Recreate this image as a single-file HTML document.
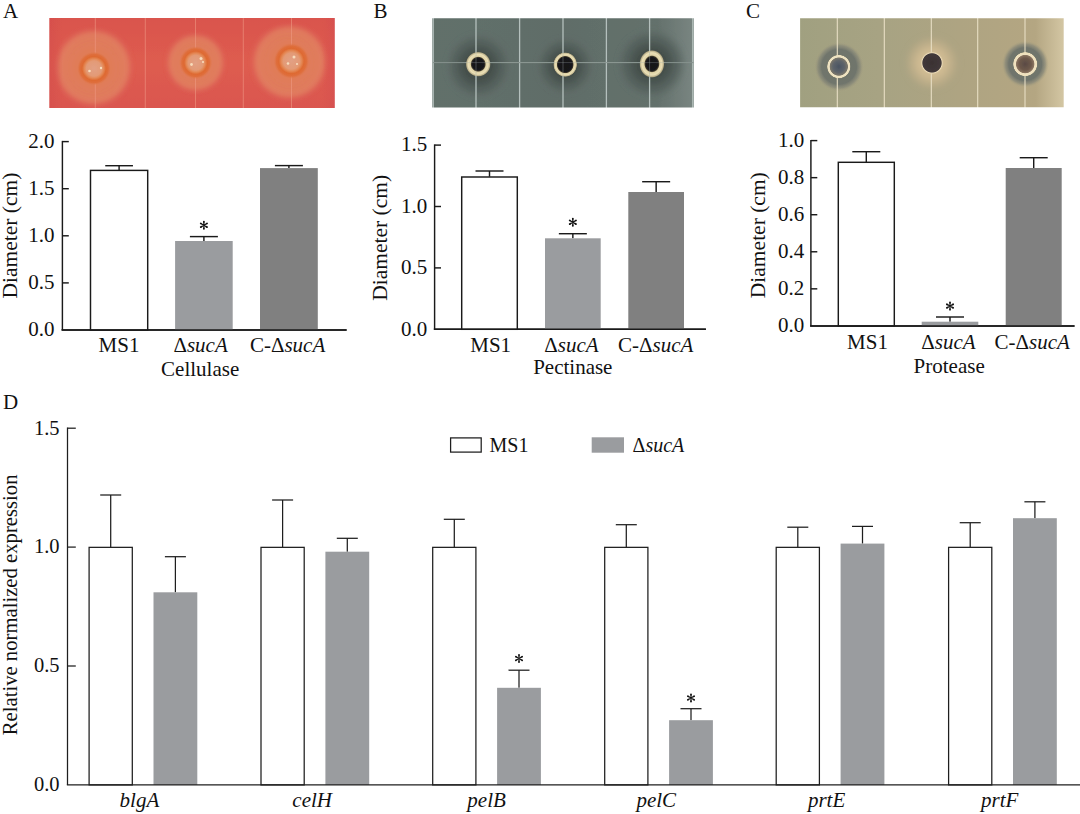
<!DOCTYPE html><html><head><meta charset="utf-8"><style>html,body{margin:0;padding:0;background:#fff;width:1080px;height:814px;overflow:hidden}svg{display:block}</style></head><body>
<svg width="1080" height="814" viewBox="0 0 1080 814" font-family='"Liberation Serif", serif' fill="#111">
<defs>
<filter id="bl1" x="-5%" y="-5%" width="110%" height="110%"><feGaussianBlur stdDeviation="0.7"/></filter><filter id="bl2" x="-20%" y="-20%" width="140%" height="140%"><feGaussianBlur stdDeviation="2"/></filter>
<filter id="bl3"><feGaussianBlur stdDeviation="2.5"/></filter>
<clipPath id="cpA"><rect x="49.3" y="18" width="285.5" height="90"/></clipPath>
<clipPath id="cpB"><rect x="432.2" y="18.2" width="261.7" height="89.3"/></clipPath>
<clipPath id="cpC"><rect x="800.1" y="18.2" width="263.6" height="89"/></clipPath>
<radialGradient id="haloA"><stop offset="0" stop-color="#e27a50"/><stop offset="0.4" stop-color="#e07c58"/><stop offset="0.7" stop-color="#e0805e" stop-opacity="0.85"/><stop offset="0.86" stop-color="#e38a66" stop-opacity="0.7"/><stop offset="1" stop-color="#de6058" stop-opacity="0"/></radialGradient>
<radialGradient id="ringA"><stop offset="0" stop-color="#e2a084"/><stop offset="0.45" stop-color="#e39a76"/><stop offset="0.56" stop-color="#e48a58"/><stop offset="0.7" stop-color="#de6a32"/><stop offset="0.84" stop-color="#df6e3c"/><stop offset="1" stop-color="#e07a50" stop-opacity="0"/></radialGradient>
<linearGradient id="bgA" x1="0" y1="0" x2="0" y2="1"><stop offset="0" stop-color="#d9544d"/><stop offset="0.5" stop-color="#de5c4f"/><stop offset="1" stop-color="#da5650"/></linearGradient>
<linearGradient id="bgAx" x1="0" y1="0" x2="1" y2="0"><stop offset="0" stop-color="#d44c4c" stop-opacity="0.8"/><stop offset="0.06" stop-color="#d44c4c" stop-opacity="0"/><stop offset="0.94" stop-color="#d44c4c" stop-opacity="0"/><stop offset="1" stop-color="#d44c55" stop-opacity="0.8"/></linearGradient>
<radialGradient id="haloB"><stop offset="0" stop-color="#3e4945"/><stop offset="0.45" stop-color="#46514d"/><stop offset="0.75" stop-color="#525e5a" stop-opacity="0.7"/><stop offset="1" stop-color="#5e6a65" stop-opacity="0"/></radialGradient>
<radialGradient id="ringB"><stop offset="0" stop-color="#141418"/><stop offset="0.46" stop-color="#18161a"/><stop offset="0.54" stop-color="#3a3428"/><stop offset="0.62" stop-color="#e0d3a6"/><stop offset="0.8" stop-color="#eadfb6"/><stop offset="0.92" stop-color="#d8c89a" stop-opacity="0.8"/><stop offset="1" stop-color="#a89870" stop-opacity="0"/></radialGradient><radialGradient id="ringB2"><stop offset="0" stop-color="#141418"/><stop offset="0.58" stop-color="#18161a"/><stop offset="0.65" stop-color="#3a3428"/><stop offset="0.72" stop-color="#e0d3a6"/><stop offset="0.85" stop-color="#eadfb6"/><stop offset="0.94" stop-color="#d8c89a" stop-opacity="0.8"/><stop offset="1" stop-color="#a89870" stop-opacity="0"/></radialGradient>
<radialGradient id="haloC"><stop offset="0" stop-color="#6c716a"/><stop offset="0.7" stop-color="#70756c"/><stop offset="0.85" stop-color="#858677" stop-opacity="0.7"/><stop offset="1" stop-color="#aba382" stop-opacity="0"/></radialGradient>
<radialGradient id="haloC2"><stop offset="0" stop-color="#d8c49c"/><stop offset="0.5" stop-color="#ccb890"/><stop offset="0.8" stop-color="#bcac88" stop-opacity="0.6"/><stop offset="1" stop-color="#aba382" stop-opacity="0"/></radialGradient>
<radialGradient id="ringC"><stop offset="0" stop-color="#4a5462"/><stop offset="0.5" stop-color="#5e646a"/><stop offset="0.74" stop-color="#7a766a"/><stop offset="0.8" stop-color="#efe4c4"/><stop offset="0.95" stop-color="#ece0be"/><stop offset="1" stop-color="#c8bd98" stop-opacity="0.2"/></radialGradient>
<radialGradient id="ringC3"><stop offset="0" stop-color="#5a4a44"/><stop offset="0.5" stop-color="#6e5a4c"/><stop offset="0.72" stop-color="#8a7460"/><stop offset="0.78" stop-color="#f0e2c0"/><stop offset="0.95" stop-color="#eee0bc"/><stop offset="1" stop-color="#c8bd98" stop-opacity="0.2"/></radialGradient>
<radialGradient id="ringC2"><stop offset="0" stop-color="#3a3232"/><stop offset="0.8" stop-color="#41383a"/><stop offset="0.88" stop-color="#ecdcb8"/><stop offset="1" stop-color="#d8c49c" stop-opacity="0.2"/></radialGradient>
<linearGradient id="bgB" x1="0" y1="0" x2="1" y2="0"><stop offset="0" stop-color="#62706b"/><stop offset="0.5" stop-color="#606d68"/><stop offset="0.85" stop-color="#64716c"/><stop offset="1" stop-color="#7c8884"/></linearGradient>
<linearGradient id="bgC" x1="0" y1="0" x2="1" y2="0"><stop offset="0" stop-color="#a0a080"/><stop offset="0.3" stop-color="#a7a383"/><stop offset="0.6" stop-color="#aea482"/><stop offset="0.88" stop-color="#b4a682"/><stop offset="1" stop-color="#d8cba8"/></linearGradient>
</defs>
<g clip-path="url(#cpA)"><g filter="url(#bl1)">
<rect x="45" y="14" width="295" height="98" fill="url(#bgA)"/>
<circle cx="93.5" cy="67.5" r="40" fill="url(#haloA)" filter="url(#bl2)"/>
<circle cx="195.5" cy="62.8" r="30" fill="url(#haloA)" filter="url(#bl2)"/>
<circle cx="289.5" cy="62" r="39" fill="url(#haloA)" filter="url(#bl2)"/>
<rect x="45" y="14" width="295" height="98" fill="url(#bgAx)"/>
<line x1="95.3" y1="14" x2="95.3" y2="112" stroke="#f09c86" stroke-width="1" opacity="0.55"/>
<line x1="145.3" y1="14" x2="145.3" y2="112" stroke="#f09c86" stroke-width="1" opacity="0.55"/>
<line x1="195.5" y1="14" x2="195.5" y2="112" stroke="#f09c86" stroke-width="1" opacity="0.55"/>
<line x1="243.3" y1="14" x2="243.3" y2="112" stroke="#f09c86" stroke-width="1" opacity="0.55"/>
<line x1="291.5" y1="14" x2="291.5" y2="112" stroke="#f09c86" stroke-width="1" opacity="0.55"/>
<circle cx="94" cy="68.5" r="17" fill="url(#ringA)"/>
<circle cx="195.7" cy="62.7" r="16.5" fill="url(#ringA)"/>
<circle cx="291.4" cy="61" r="18" fill="url(#ringA)"/>
<circle cx="89.5" cy="71" r="1.3" fill="#fae2c2" opacity="0.9"/>
<circle cx="101" cy="68" r="1.2" fill="#fae2c2" opacity="0.9"/>
<circle cx="191.5" cy="64.5" r="1.4" fill="#fae2c2" opacity="0.9"/>
<circle cx="201" cy="58.5" r="1.5" fill="#fae2c2" opacity="0.9"/>
<circle cx="203" cy="62" r="1.1" fill="#fae2c2" opacity="0.9"/>
<circle cx="288" cy="63.5" r="1.3" fill="#fae2c2" opacity="0.9"/>
<circle cx="294" cy="57" r="1.5" fill="#fae2c2" opacity="0.9"/>
<circle cx="297" cy="64" r="1.1" fill="#fae2c2" opacity="0.9"/>
</g></g>
<g clip-path="url(#cpB)"><g filter="url(#bl1)">
<rect x="428" y="14" width="270" height="98" fill="url(#bgB)"/>
<circle cx="478.3" cy="66" r="34" fill="url(#haloB)" filter="url(#bl2)"/>
<circle cx="565" cy="66" r="30" fill="url(#haloB)" filter="url(#bl2)"/>
<circle cx="651.7" cy="63.8" r="36" fill="url(#haloB)" filter="url(#bl2)"/>
<line x1="433.2" y1="14" x2="433.2" y2="112" stroke="#b4c0bd" stroke-width="1.3"/>
<line x1="476" y1="14" x2="476" y2="112" stroke="#b4c0bd" stroke-width="1.3"/>
<line x1="519.6" y1="14" x2="519.6" y2="112" stroke="#b4c0bd" stroke-width="1.3"/>
<line x1="563" y1="14" x2="563" y2="112" stroke="#b4c0bd" stroke-width="1.3"/>
<line x1="606.4" y1="14" x2="606.4" y2="112" stroke="#b4c0bd" stroke-width="1.3"/>
<line x1="649.6" y1="14" x2="649.6" y2="112" stroke="#b4c0bd" stroke-width="1.3"/>
<line x1="692.8" y1="14" x2="692.8" y2="112" stroke="#b4c0bd" stroke-width="1.3"/>
<line x1="428" y1="62.6" x2="698" y2="62.6" stroke="#86928e" stroke-width="1"/>
<ellipse cx="478.2" cy="64.2" rx="12.6" ry="12.6" fill="url(#ringB)"/>
<ellipse cx="565.2" cy="64.6" rx="12.0" ry="12.4" fill="url(#ringB2)"/>
<ellipse cx="651.9" cy="63.9" rx="12.6" ry="14.0" fill="url(#ringB)"/>
<line x1="476" y1="52" x2="476" y2="77" stroke="#9eaaa6" stroke-width="1" opacity="0.35"/>
<line x1="563" y1="52" x2="563" y2="77" stroke="#9eaaa6" stroke-width="1" opacity="0.35"/>
<line x1="649.6" y1="52" x2="649.6" y2="77" stroke="#9eaaa6" stroke-width="1" opacity="0.35"/>
<line x1="465" y1="62.6" x2="665" y2="62.6" stroke="#9eaaa6" stroke-width="1" opacity="0.3"/>
</g></g>
<g clip-path="url(#cpC)"><g filter="url(#bl1)">
<rect x="796" y="14" width="272" height="98" fill="url(#bgC)"/>
<circle cx="839" cy="66.8" r="25" fill="url(#haloC)" filter="url(#bl1)"/>
<circle cx="932" cy="63" r="29" fill="url(#haloC2)" filter="url(#bl2)"/>
<circle cx="1025.2" cy="64.1" r="23.5" fill="url(#haloC)" filter="url(#bl1)"/>
<line x1="837.3" y1="14" x2="837.3" y2="112" stroke="#e8dec4" stroke-width="1.1"/>
<line x1="884.3" y1="14" x2="884.3" y2="112" stroke="#e8dec4" stroke-width="1.1"/>
<line x1="931.3" y1="14" x2="931.3" y2="112" stroke="#e8dec4" stroke-width="1.1"/>
<line x1="977.7" y1="14" x2="977.7" y2="112" stroke="#e8dec4" stroke-width="1.1"/>
<line x1="1025" y1="14" x2="1025" y2="112" stroke="#e8dec4" stroke-width="1.1"/>
<circle cx="838.8" cy="66.6" r="11.8" fill="url(#ringC)"/>
<circle cx="932" cy="62.9" r="11.5" fill="url(#ringC2)"/>
<circle cx="1025.2" cy="64.1" r="12.2" fill="url(#ringC3)"/>
</g></g>
<text x="3.00" y="17.80" font-size="21" text-anchor="start">A</text>
<text x="373.50" y="18.30" font-size="21" text-anchor="start">B</text>
<text x="746.00" y="18.30" font-size="21" text-anchor="start">C</text>
<text x="3.00" y="408.50" font-size="21" text-anchor="start">D</text>
<line x1="62.40" y1="140.88" x2="62.40" y2="330.00" stroke="#1a1a1a" stroke-width="1.45"/>
<line x1="61.67" y1="330.00" x2="346.60" y2="330.00" stroke="#1a1a1a" stroke-width="1.45"/>
<text x="54.50" y="336.30" font-size="21" text-anchor="end">0.0</text>
<line x1="62.40" y1="282.90" x2="68.80" y2="282.90" stroke="#1a1a1a" stroke-width="1.45"/>
<text x="54.50" y="289.20" font-size="21" text-anchor="end">0.5</text>
<line x1="62.40" y1="235.80" x2="68.80" y2="235.80" stroke="#1a1a1a" stroke-width="1.45"/>
<text x="54.50" y="242.10" font-size="21" text-anchor="end">1.0</text>
<line x1="62.40" y1="188.70" x2="68.80" y2="188.70" stroke="#1a1a1a" stroke-width="1.45"/>
<text x="54.50" y="195.00" font-size="21" text-anchor="end">1.5</text>
<line x1="62.40" y1="141.60" x2="68.80" y2="141.60" stroke="#1a1a1a" stroke-width="1.45"/>
<text x="54.50" y="147.90" font-size="21" text-anchor="end">2.0</text>
<line x1="119.10" y1="170.10" x2="119.10" y2="165.70" stroke="#1a1a1a" stroke-width="1.45"/>
<line x1="105.25" y1="165.70" x2="132.95" y2="165.70" stroke="#1a1a1a" stroke-width="1.45"/>
<rect x="90.50" y="170.40" width="57.20" height="159.60" fill="#fff" stroke="#1a1a1a" stroke-width="1.45"/>
<line x1="203.90" y1="241.00" x2="203.90" y2="236.60" stroke="#1a1a1a" stroke-width="1.45"/>
<line x1="189.90" y1="236.60" x2="217.90" y2="236.60" stroke="#1a1a1a" stroke-width="1.45"/>
<rect x="175.10" y="241.00" width="57.60" height="89.00" fill="#9a9c9f"/>
<path d="M204.20,225.30 L204.85,221.75 A0.95,0.95 0 1 0 202.95,221.75 L203.60,225.30Z M204.05,225.56 L207.45,224.35 A0.95,0.95 0 1 0 206.50,222.70 L203.75,225.04Z M203.75,225.56 L206.50,227.90 A0.95,0.95 0 1 0 207.45,226.25 L204.05,225.04Z M203.60,225.30 L202.95,228.85 A0.95,0.95 0 1 0 204.85,228.85 L204.20,225.30Z M204.05,225.04 L201.30,222.70 A0.95,0.95 0 1 0 200.35,224.35 L203.75,225.56Z M203.75,225.04 L200.35,226.25 A0.95,0.95 0 1 0 201.30,227.90 L204.05,225.56Z" fill="#111"/>
<line x1="288.90" y1="168.10" x2="288.90" y2="165.60" stroke="#1a1a1a" stroke-width="1.45"/>
<line x1="274.90" y1="165.60" x2="302.90" y2="165.60" stroke="#1a1a1a" stroke-width="1.45"/>
<rect x="260.00" y="168.10" width="57.80" height="161.90" fill="#808080"/>
<line x1="61.67" y1="330.00" x2="346.60" y2="330.00" stroke="#1a1a1a" stroke-width="1.45"/>
<text x="119.00" y="352.00" font-size="21" text-anchor="middle">MS1</text>
<text x="200.60" y="352.00" font-size="21" text-anchor="middle">&#916;<tspan font-style="italic">sucA</tspan></text>
<text x="287.60" y="352.00" font-size="21" text-anchor="middle">C-&#916;<tspan font-style="italic">sucA</tspan></text>
<text x="200.20" y="376.30" font-size="21" text-anchor="middle">Cellulase</text>
<text transform="translate(17.20,235.60) rotate(-90)" font-size="21.5" text-anchor="middle">Diameter (cm)</text>
<line x1="434.60" y1="144.38" x2="434.60" y2="329.30" stroke="#1a1a1a" stroke-width="1.45"/>
<line x1="433.88" y1="329.30" x2="705.90" y2="329.30" stroke="#1a1a1a" stroke-width="1.45"/>
<text x="427.20" y="335.60" font-size="21" text-anchor="end">0.0</text>
<line x1="434.60" y1="267.90" x2="441.00" y2="267.90" stroke="#1a1a1a" stroke-width="1.45"/>
<text x="427.20" y="274.20" font-size="21" text-anchor="end">0.5</text>
<line x1="434.60" y1="206.50" x2="441.00" y2="206.50" stroke="#1a1a1a" stroke-width="1.45"/>
<text x="427.20" y="212.80" font-size="21" text-anchor="end">1.0</text>
<line x1="434.60" y1="145.10" x2="441.00" y2="145.10" stroke="#1a1a1a" stroke-width="1.45"/>
<text x="427.20" y="151.40" font-size="21" text-anchor="end">1.5</text>
<line x1="489.50" y1="176.70" x2="489.50" y2="171.00" stroke="#1a1a1a" stroke-width="1.45"/>
<line x1="475.50" y1="171.00" x2="503.50" y2="171.00" stroke="#1a1a1a" stroke-width="1.45"/>
<rect x="461.70" y="177.00" width="55.60" height="152.30" fill="#fff" stroke="#1a1a1a" stroke-width="1.45"/>
<line x1="572.85" y1="238.30" x2="572.85" y2="233.70" stroke="#1a1a1a" stroke-width="1.45"/>
<line x1="558.85" y1="233.70" x2="586.85" y2="233.70" stroke="#1a1a1a" stroke-width="1.45"/>
<rect x="545.00" y="238.30" width="55.70" height="91.00" fill="#9a9c9f"/>
<path d="M573.15,222.30 L573.80,218.75 A0.95,0.95 0 1 0 571.90,218.75 L572.55,222.30Z M573.00,222.56 L576.40,221.35 A0.95,0.95 0 1 0 575.45,219.70 L572.70,222.04Z M572.70,222.56 L575.45,224.90 A0.95,0.95 0 1 0 576.40,223.25 L573.00,222.04Z M572.55,222.30 L571.90,225.85 A0.95,0.95 0 1 0 573.80,225.85 L573.15,222.30Z M573.00,222.04 L570.25,219.70 A0.95,0.95 0 1 0 569.30,221.35 L572.70,222.56Z M572.70,222.04 L569.30,223.25 A0.95,0.95 0 1 0 570.25,224.90 L573.00,222.56Z" fill="#111"/>
<line x1="656.15" y1="192.00" x2="656.15" y2="181.70" stroke="#1a1a1a" stroke-width="1.45"/>
<line x1="642.15" y1="181.70" x2="670.15" y2="181.70" stroke="#1a1a1a" stroke-width="1.45"/>
<rect x="628.30" y="192.00" width="55.70" height="137.30" fill="#808080"/>
<line x1="433.88" y1="329.30" x2="705.90" y2="329.30" stroke="#1a1a1a" stroke-width="1.45"/>
<text x="490.70" y="351.80" font-size="21" text-anchor="middle">MS1</text>
<text x="571.40" y="351.80" font-size="21" text-anchor="middle">&#916;<tspan font-style="italic">sucA</tspan></text>
<text x="655.70" y="351.80" font-size="21" text-anchor="middle">C-&#916;<tspan font-style="italic">sucA</tspan></text>
<text x="572.80" y="374.40" font-size="21" text-anchor="middle">Pectinase</text>
<text transform="translate(387.20,237.80) rotate(-90)" font-size="21.5" text-anchor="middle">Diameter (cm)</text>
<line x1="810.90" y1="139.88" x2="810.90" y2="325.90" stroke="#1a1a1a" stroke-width="1.45"/>
<line x1="810.17" y1="325.90" x2="1074.50" y2="325.90" stroke="#1a1a1a" stroke-width="1.45"/>
<text x="804.30" y="332.20" font-size="21" text-anchor="end">0.0</text>
<line x1="810.90" y1="288.84" x2="817.30" y2="288.84" stroke="#1a1a1a" stroke-width="1.45"/>
<text x="804.30" y="295.14" font-size="21" text-anchor="end">0.2</text>
<line x1="810.90" y1="251.78" x2="817.30" y2="251.78" stroke="#1a1a1a" stroke-width="1.45"/>
<text x="804.30" y="258.08" font-size="21" text-anchor="end">0.4</text>
<line x1="810.90" y1="214.72" x2="817.30" y2="214.72" stroke="#1a1a1a" stroke-width="1.45"/>
<text x="804.30" y="221.02" font-size="21" text-anchor="end">0.6</text>
<line x1="810.90" y1="177.66" x2="817.30" y2="177.66" stroke="#1a1a1a" stroke-width="1.45"/>
<text x="804.30" y="183.96" font-size="21" text-anchor="end">0.8</text>
<line x1="810.90" y1="140.60" x2="817.30" y2="140.60" stroke="#1a1a1a" stroke-width="1.45"/>
<text x="804.30" y="146.90" font-size="21" text-anchor="end">1.0</text>
<line x1="866.30" y1="162.00" x2="866.30" y2="151.70" stroke="#1a1a1a" stroke-width="1.45"/>
<line x1="852.30" y1="151.70" x2="880.30" y2="151.70" stroke="#1a1a1a" stroke-width="1.45"/>
<rect x="838.30" y="162.30" width="56.00" height="163.60" fill="#fff" stroke="#1a1a1a" stroke-width="1.45"/>
<line x1="950.00" y1="321.70" x2="950.00" y2="317.00" stroke="#1a1a1a" stroke-width="1.45"/>
<line x1="936.00" y1="317.00" x2="964.00" y2="317.00" stroke="#1a1a1a" stroke-width="1.45"/>
<rect x="921.70" y="321.70" width="56.60" height="4.20" fill="#9a9c9f"/>
<path d="M950.30,306.10 L950.95,302.55 A0.95,0.95 0 1 0 949.05,302.55 L949.70,306.10Z M950.15,306.36 L953.55,305.15 A0.95,0.95 0 1 0 952.60,303.50 L949.85,305.84Z M949.85,306.36 L952.60,308.70 A0.95,0.95 0 1 0 953.55,307.05 L950.15,305.84Z M949.70,306.10 L949.05,309.65 A0.95,0.95 0 1 0 950.95,309.65 L950.30,306.10Z M950.15,305.84 L947.40,303.50 A0.95,0.95 0 1 0 946.45,305.15 L949.85,306.36Z M949.85,305.84 L946.45,307.05 A0.95,0.95 0 1 0 947.40,308.70 L950.15,306.36Z" fill="#111"/>
<line x1="1033.70" y1="168.00" x2="1033.70" y2="157.70" stroke="#1a1a1a" stroke-width="1.45"/>
<line x1="1019.70" y1="157.70" x2="1047.70" y2="157.70" stroke="#1a1a1a" stroke-width="1.45"/>
<rect x="1005.70" y="168.00" width="56.00" height="157.90" fill="#808080"/>
<line x1="810.17" y1="325.90" x2="1074.50" y2="325.90" stroke="#1a1a1a" stroke-width="1.45"/>
<text x="867.50" y="348.80" font-size="21" text-anchor="middle">MS1</text>
<text x="948.50" y="348.80" font-size="21" text-anchor="middle">&#916;<tspan font-style="italic">sucA</tspan></text>
<text x="1032.20" y="348.80" font-size="21" text-anchor="middle">C-&#916;<tspan font-style="italic">sucA</tspan></text>
<text x="949.20" y="372.90" font-size="21" text-anchor="middle">Protease</text>
<text transform="translate(765.00,235.20) rotate(-90)" font-size="21.5" text-anchor="middle">Diameter (cm)</text>
<line x1="67.50" y1="427.57" x2="67.50" y2="784.90" stroke="#1e1e1e" stroke-width="1.25"/>
<text x="59.50" y="791.20" font-size="20.5" text-anchor="end">0.0</text>
<line x1="67.50" y1="666.00" x2="75.80" y2="666.00" stroke="#1e1e1e" stroke-width="1.25"/>
<text x="59.50" y="672.30" font-size="20.5" text-anchor="end">0.5</text>
<line x1="67.50" y1="547.10" x2="75.80" y2="547.10" stroke="#1e1e1e" stroke-width="1.25"/>
<text x="59.50" y="553.40" font-size="20.5" text-anchor="end">1.0</text>
<line x1="67.50" y1="428.20" x2="75.80" y2="428.20" stroke="#1e1e1e" stroke-width="1.25"/>
<text x="59.50" y="434.50" font-size="20.5" text-anchor="end">1.5</text>
<line x1="110.70" y1="547.10" x2="110.70" y2="495.00" stroke="#1e1e1e" stroke-width="1.25"/>
<line x1="100.20" y1="495.00" x2="121.20" y2="495.00" stroke="#1e1e1e" stroke-width="1.25"/>
<rect x="89.10" y="547.35" width="43.20" height="237.55" fill="#fff" stroke="#1e1e1e" stroke-width="1.25"/>
<line x1="175.40" y1="592.30" x2="175.40" y2="556.70" stroke="#1e1e1e" stroke-width="1.25"/>
<line x1="164.90" y1="556.70" x2="185.90" y2="556.70" stroke="#1e1e1e" stroke-width="1.25"/>
<rect x="153.50" y="592.30" width="43.80" height="192.60" fill="#9a9c9f"/>
<text x="139.40" y="807.40" font-size="21" text-anchor="middle" font-style="italic">blgA</text>
<line x1="282.60" y1="547.10" x2="282.60" y2="500.00" stroke="#1e1e1e" stroke-width="1.25"/>
<line x1="272.10" y1="500.00" x2="293.10" y2="500.00" stroke="#1e1e1e" stroke-width="1.25"/>
<rect x="261.00" y="547.35" width="43.20" height="237.55" fill="#fff" stroke="#1e1e1e" stroke-width="1.25"/>
<line x1="347.30" y1="551.70" x2="347.30" y2="538.30" stroke="#1e1e1e" stroke-width="1.25"/>
<line x1="336.80" y1="538.30" x2="357.80" y2="538.30" stroke="#1e1e1e" stroke-width="1.25"/>
<rect x="325.40" y="551.70" width="43.80" height="233.20" fill="#9a9c9f"/>
<text x="312.20" y="807.40" font-size="21" text-anchor="middle" font-style="italic">celH</text>
<line x1="454.30" y1="547.10" x2="454.30" y2="519.30" stroke="#1e1e1e" stroke-width="1.25"/>
<line x1="443.80" y1="519.30" x2="464.80" y2="519.30" stroke="#1e1e1e" stroke-width="1.25"/>
<rect x="432.70" y="547.35" width="43.20" height="237.55" fill="#fff" stroke="#1e1e1e" stroke-width="1.25"/>
<line x1="519.00" y1="687.80" x2="519.00" y2="670.20" stroke="#1e1e1e" stroke-width="1.25"/>
<line x1="508.50" y1="670.20" x2="529.50" y2="670.20" stroke="#1e1e1e" stroke-width="1.25"/>
<rect x="497.10" y="687.80" width="43.80" height="97.10" fill="#9a9c9f"/>
<path d="M519.30,658.50 L519.95,655.00 A0.95,0.95 0 1 0 518.05,655.00 L518.70,658.50Z M519.15,658.76 L522.51,657.57 A0.95,0.95 0 1 0 521.56,655.93 L518.85,658.24Z M518.85,658.76 L521.56,661.07 A0.95,0.95 0 1 0 522.51,659.43 L519.15,658.24Z M518.70,658.50 L518.05,662.00 A0.95,0.95 0 1 0 519.95,662.00 L519.30,658.50Z M519.15,658.24 L516.44,655.93 A0.95,0.95 0 1 0 515.49,657.57 L518.85,658.76Z M518.85,658.24 L515.49,659.43 A0.95,0.95 0 1 0 516.44,661.07 L519.15,658.76Z" fill="#111"/>
<text x="486.60" y="807.40" font-size="21" text-anchor="middle" font-style="italic">pelB</text>
<line x1="626.30" y1="547.10" x2="626.30" y2="524.70" stroke="#1e1e1e" stroke-width="1.25"/>
<line x1="615.80" y1="524.70" x2="636.80" y2="524.70" stroke="#1e1e1e" stroke-width="1.25"/>
<rect x="604.70" y="547.35" width="43.20" height="237.55" fill="#fff" stroke="#1e1e1e" stroke-width="1.25"/>
<line x1="691.00" y1="720.20" x2="691.00" y2="708.70" stroke="#1e1e1e" stroke-width="1.25"/>
<line x1="680.50" y1="708.70" x2="701.50" y2="708.70" stroke="#1e1e1e" stroke-width="1.25"/>
<rect x="669.10" y="720.20" width="43.80" height="64.70" fill="#9a9c9f"/>
<path d="M691.30,698.00 L691.95,694.50 A0.95,0.95 0 1 0 690.05,694.50 L690.70,698.00Z M691.15,698.26 L694.51,697.07 A0.95,0.95 0 1 0 693.56,695.43 L690.85,697.74Z M690.85,698.26 L693.56,700.57 A0.95,0.95 0 1 0 694.51,698.93 L691.15,697.74Z M690.70,698.00 L690.05,701.50 A0.95,0.95 0 1 0 691.95,701.50 L691.30,698.00Z M691.15,697.74 L688.44,695.43 A0.95,0.95 0 1 0 687.49,697.07 L690.85,698.26Z M690.85,697.74 L687.49,698.93 A0.95,0.95 0 1 0 688.44,700.57 L691.15,698.26Z" fill="#111"/>
<text x="656.30" y="807.40" font-size="21" text-anchor="middle" font-style="italic">pelC</text>
<line x1="797.80" y1="547.10" x2="797.80" y2="527.20" stroke="#1e1e1e" stroke-width="1.25"/>
<line x1="787.30" y1="527.20" x2="808.30" y2="527.20" stroke="#1e1e1e" stroke-width="1.25"/>
<rect x="776.20" y="547.35" width="43.20" height="237.55" fill="#fff" stroke="#1e1e1e" stroke-width="1.25"/>
<line x1="862.50" y1="543.60" x2="862.50" y2="526.40" stroke="#1e1e1e" stroke-width="1.25"/>
<line x1="852.00" y1="526.40" x2="873.00" y2="526.40" stroke="#1e1e1e" stroke-width="1.25"/>
<rect x="840.60" y="543.60" width="43.80" height="241.30" fill="#9a9c9f"/>
<text x="826.60" y="807.40" font-size="21" text-anchor="middle" font-style="italic">prtE</text>
<line x1="970.20" y1="547.10" x2="970.20" y2="522.70" stroke="#1e1e1e" stroke-width="1.25"/>
<line x1="959.70" y1="522.70" x2="980.70" y2="522.70" stroke="#1e1e1e" stroke-width="1.25"/>
<rect x="948.60" y="547.35" width="43.20" height="237.55" fill="#fff" stroke="#1e1e1e" stroke-width="1.25"/>
<line x1="1034.90" y1="518.20" x2="1034.90" y2="501.80" stroke="#1e1e1e" stroke-width="1.25"/>
<line x1="1024.40" y1="501.80" x2="1045.40" y2="501.80" stroke="#1e1e1e" stroke-width="1.25"/>
<rect x="1013.00" y="518.20" width="43.80" height="266.70" fill="#9a9c9f"/>
<text x="999.70" y="807.40" font-size="21" text-anchor="middle" font-style="italic">prtF</text>
<line x1="66.88" y1="784.90" x2="1080.00" y2="784.90" stroke="#1e1e1e" stroke-width="1.25"/>
<rect x="450.6" y="437.9" width="30.6" height="14.2" fill="#fff" stroke="#1e1e1e" stroke-width="1.25"/>
<text x="489.50" y="452.30" font-size="20" text-anchor="start">MS1</text>
<rect x="591.7" y="437.3" width="32.3" height="15.4" fill="#9a9c9f"/>
<text x="632.50" y="452.30" font-size="20" text-anchor="start">&#916;<tspan font-style="italic">sucA</tspan></text>
<text transform="translate(17.0,604.85) rotate(-90)" font-size="20.7" text-anchor="middle">Relative normalized expression</text>
</svg></body></html>
